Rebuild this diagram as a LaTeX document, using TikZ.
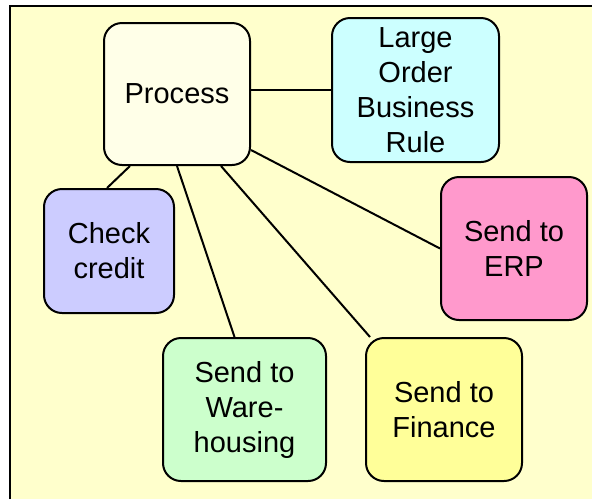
\documentclass[tikz,border=0pt]{standalone}
\usepackage{fontspec}
\setmainfont{Liberation Sans}
\definecolor{bgyel}{HTML}{FFFFCC}
\definecolor{procyel}{HTML}{FFFFE8}
\definecolor{lobrcyan}{HTML}{CCFFFF}
\definecolor{erppink}{HTML}{FF99CC}
\definecolor{chkblue}{HTML}{CCCCFF}
\definecolor{waregreen}{HTML}{CCFFCC}
\definecolor{finyel}{HTML}{FFFF99}
\tikzset{
  stage/.style={draw,line width=1pt,rounded corners=9pt,align=center,inner sep=0pt,
    font=\fontsize{14.5}{17.5}\selectfont},
  link/.style={line width=1pt}
}

\begin{document}
\begin{tikzpicture}[x=0.5pt,y=-0.5pt]
\useasboundingbox (0,0) rectangle (592,499);
\fill[bgyel] (10,6) rectangle (592,499);
\draw[line width=1.3pt] (10,499)--(10,6)--(592,6);

% boxes
\node[stage,fill=procyel,minimum width=73pt,minimum height=71pt] (proc) at (177,94) {Process};
\node[stage,fill=lobrcyan,minimum width=83.5pt,minimum height=72pt] (lobr) at (415.5,90) {Large\\Order\\Business\\Rule};
\node[stage,fill=erppink,minimum width=73pt,minimum height=71.5pt] (erp) at (514,248.5) {Send to\\ERP};
\node[stage,fill=chkblue,minimum width=65pt,minimum height=62pt] (chk) at (109,251) {Check\\credit};
\node[stage,fill=waregreen,minimum width=81.5pt,minimum height=71.5pt] (ware) at (244.5,409.5) {Send to\\Ware-\\housing};
\node[stage,fill=finyel,minimum width=78pt,minimum height=71.5pt] (fin) at (444,409.5) {Send to\\Finance};

% links
\draw[link] (lobr.west -| proc.east) -- (lobr.west);
\draw[link] ([yshift=8pt]proc.south east) -- (erp.west);
\draw[link] ([xshift=22pt]proc.south) -- ([xshift=2.5pt]fin.north west);
\draw[link] (proc.south) -- ([xshift=-5pt]ware.north);
\draw[link] ([xshift=-23.5pt]proc.south) -- ([xshift=-1pt]chk.north);

\end{tikzpicture}
\end{document}
